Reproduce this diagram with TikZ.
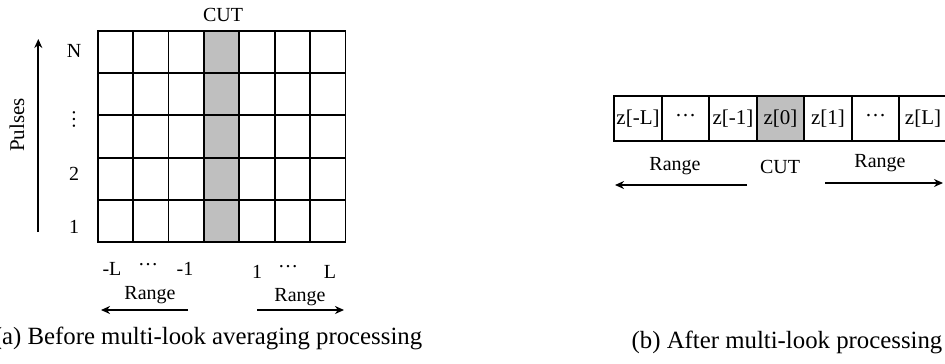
\documentclass[tikz,border=0pt]{standalone}
\usepackage{fontspec}
\setmainfont{Liberation Serif}
\usetikzlibrary{arrows.meta}
\newcommand{\hdots}{\raisebox{0.22em}{…}}
\tikzset{
  cell/.style={draw, line width=1.8pt, minimum width=35.4pt, minimum height=42.3pt, inner sep=0pt, outer sep=0pt, anchor=north west},
  cutcell/.style={cell, fill=gray!50},
  zcell/.style={draw, line width=1.8pt, minimum width=47.5pt, minimum height=45pt, inner sep=0pt, outer sep=0pt, anchor=north west, font=\fontsize{21}{23}\selectfont},
  lbl/.style={font=\fontsize{20}{22}\selectfont, inner sep=0pt},
  captxt/.style={font=\fontsize{24.8}{27}\selectfont, inner sep=0pt},
  arr/.style={line width=2pt, -{Stealth[length=9pt,width=8pt]}}
}
\begin{document}
\begin{tikzpicture}[x=1pt,y=-1pt]
\useasboundingbox (0,0) rectangle (945,364);
% left grid
\foreach \c in {0,...,6}{
  \foreach \r in {0,...,4}{
    \ifnum\c=3
      \node[cutcell] (g-\c-\r) at (97.7+35.4*\c, 30.7+42.3*\r) {};
    \else
      \node[cell] (g-\c-\r) at (97.7+35.4*\c, 30.7+42.3*\r) {};
    \fi
  }
}
\node[lbl] (cutA) at (223,15) {CUT};
\node[lbl] (rN) at (74,51) {N};
\node[lbl, rotate=-90] (rdots) at (74,119) {…};
\node[lbl] (r2) at (74,174) {2};
\node[lbl] (r1) at (74,227) {1};
\coordinate (pb) at (38.3,232);
\coordinate (pt) at (38.3,39);
\draw[arr] (pb) -- (pt);
\node[lbl, rotate=90, font=\fontsize{21}{23}\selectfont] (pulses) at (17,125) {Pulses};
\node[lbl] (mL) at (112,269) {-L};
\node[lbl] (md) at (148,267) {\hdots};
\node[lbl] (m1) at (185,269) {-1};
\node[lbl] (p1) at (257,272) {1};
\node[lbl] (pd) at (288,269) {\hdots};
\node[lbl] (pL) at (330,272) {L};
\node[lbl] (rangeL) at (150,295) {Range};
\node[lbl] (rangeR) at (300,297) {Range};
\coordinate (la1) at (188,310);
\coordinate (la2) at (101,310);
\coordinate (ra1) at (257,310);
\coordinate (ra2) at (344,310);
\draw[arr] (la1) -- (la2);
\draw[arr] (ra1) -- (ra2);
\node[captxt] (capA) at (208,338) {(a) Before multi-look averaging processing};
% right strip
\node[zcell] (z0) at (614.3,95.7) {z[-L]};
\node[zcell] (z1) at (661.8,95.7) {\hdots};
\node[zcell] (z2) at (709.3,95.7) {z[-1]};
\node[zcell, fill=gray!50] (z3) at (756.8,95.7) {z[0]};
\node[zcell] (z4) at (804.3,95.7) {z[1]};
\node[zcell] (z5) at (851.8,95.7) {\hdots};
\node[zcell] (z6) at (899.3,95.7) {z[L]};
\node[lbl] (rangeL2) at (675,166) {Range};
\node[lbl] (cutB) at (780,167) {CUT};
\node[lbl] (rangeR2) at (880,163) {Range};
\coordinate (lb1) at (747,185);
\coordinate (lb2) at (615,185);
\coordinate (rb1) at (825,183);
\coordinate (rb2) at (943,183);
\draw[arr] (lb1) -- (lb2);
\draw[arr] (rb1) -- (rb2);
\node[captxt] (capB) at (787,342) {(b) After multi-look processing};
\end{tikzpicture}
\end{document}
